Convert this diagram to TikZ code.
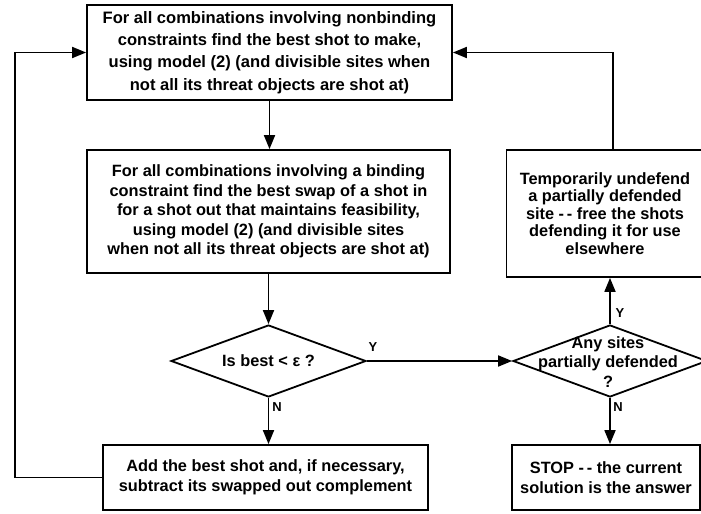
\documentclass[tikz,border=0pt]{standalone}
\usepackage{fontspec}
\setmainfont{Liberation Sans}
\usetikzlibrary{arrows.meta,shapes.geometric}
\begin{document}
\begin{tikzpicture}[x=1bp,y=-1bp,
  line width=1.8bp,
  box/.style={draw, rectangle, inner sep=0pt, align=center},
  dia/.style={draw, diamond, inner sep=0pt},
  fa/.style={font=\bfseries\fontsize{16.6}{22.5}\selectfont},
  fb/.style={font=\bfseries\fontsize{16.4}{19.5}\selectfont},
  fc/.style={font=\bfseries\fontsize{16.4}{17.5}\selectfont},
  fd/.style={font=\bfseries\fontsize{16.4}{20}\selectfont},
  txt/.style={inner sep=0pt, align=center},
  lbl/.style={inner sep=0pt, font=\bfseries\fontsize{13}{13}\selectfont},
  arr/.style={-{Triangle[length=14bp,width=11bp]}},
]
\path[use as bounding box, clip] (0,0) rectangle (701,514);

\node[box, fa, minimum width=365bp, minimum height=95bp] (b1) at (269.5,52.5)
  {For all combinations involving nonbinding\\
   constraints find the best shot to make,\\
   using model (2) (and divisible sites when\\
   not all its threat objects are shot at)};

\node[box, fb, minimum width=363bp, minimum height=123bp] (b2) at (268.5,211.5)
  {For all combinations involving a binding\\
   constraint find the best swap of a shot in\\
   for a shot out that maintains feasibility,\\
   using model (2) (and divisible sites\\
   when not all its threat objects are shot at)};

\node[dia, minimum width=195bp, minimum height=72bp] (d1) at (268.5,361) {};
\node[txt, fb] (d1t) at (d1.center) {Is best < ε ?};

\node[dia, minimum width=194bp, minimum height=72bp] (d2) at (610,361) {};
\node[txt, fb] (d2t) at (608,362) {Any sites\\ partially defended\\ ?};

\node[box, fc, minimum width=197bp, minimum height=127bp] (b3) at (605,213.5)
  {Temporarily undefend\\
   a partially defended\\
   site -\,- free the shots\\
   defending it for use\\
   elsewhere};

\node[box, fd, minimum width=325bp, minimum height=65bp] (b4) at (265.5,477.5)
  {Add the best shot and, if necessary,\\
   subtract its swapped out complement};

\node[box, fd, minimum width=188bp, minimum height=65bp] (b5) at (606,477.5)
  {STOP -\,- the current\\
   solution is the answer};

\node[lbl] (y1) at (373,347) {Y};
\node[lbl] (n1) at (277,407) {N};
\node[lbl] (y2) at (620,313) {Y};
\node[lbl] (n2) at (618,407) {N};

\coordinate (R) at (613,0);
\coordinate (L) at (15,0);

\draw[arr] (b1.south) -- (b1.south |- b2.north);
\draw[arr] (b2.south) -- (d1.north);
\draw[arr] (d1.east) -- (d2.west);
\draw[arr] (d1.south) -- (d1.south |- b4.north);
\draw[arr] (d2.north) -- (d2.north |- b3.south);
\draw[arr] (d2.south) -- (d2.south |- b5.north);
\draw[arr] (R |- b3.north) -- (R |- b1.east) -- (b1.east);
\draw[arr] (b4.west) -- (L |- b4.west) -- (L |- b1.west) -- (b1.west);
\end{tikzpicture}
\end{document}
